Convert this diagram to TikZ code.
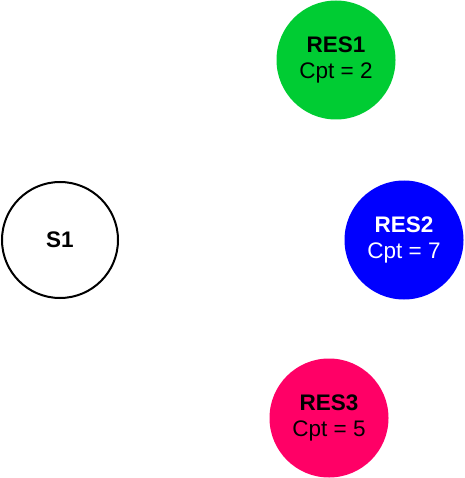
\documentclass[tikz,border=0pt]{standalone}
\usepackage{fontspec}
\setmainfont{Liberation Sans}
\definecolor{resgreen}{RGB}{0,204,51}
\definecolor{resblue}{RGB}{0,0,255}
\definecolor{respink}{RGB}{255,0,102}
\begin{document}
\begin{tikzpicture} [
  x=1pt,
  y=-1pt,
  server/.style={circle,draw=black,line width=2pt,fill=white,minimum size=116pt,inner sep=0pt,
    font=\fontsize{22.5}{26}\selectfont},
  res/.style={circle,minimum size=119pt,inner sep=0pt,align=center,
    font=\fontsize{22.5}{26}\selectfont}]

\useasboundingbox (0,0) rectangle (464,478);

\node[server] (s1) at (60,240) {\textbf{S1}};

\node[res,fill=resgreen] (res1) at (336,60) {
    \textbf{RES1}\\
    Cpt = 2
    };
\node[res,fill=resblue,text=white] (res2) at (404,240) {
    \textbf{RES2}\\
    Cpt = 7
    };
\node[res,fill=respink] (res3) at (329,418) {
    \textbf{RES3}\\
    Cpt = 5
    };
\end{tikzpicture}
\end{document}
